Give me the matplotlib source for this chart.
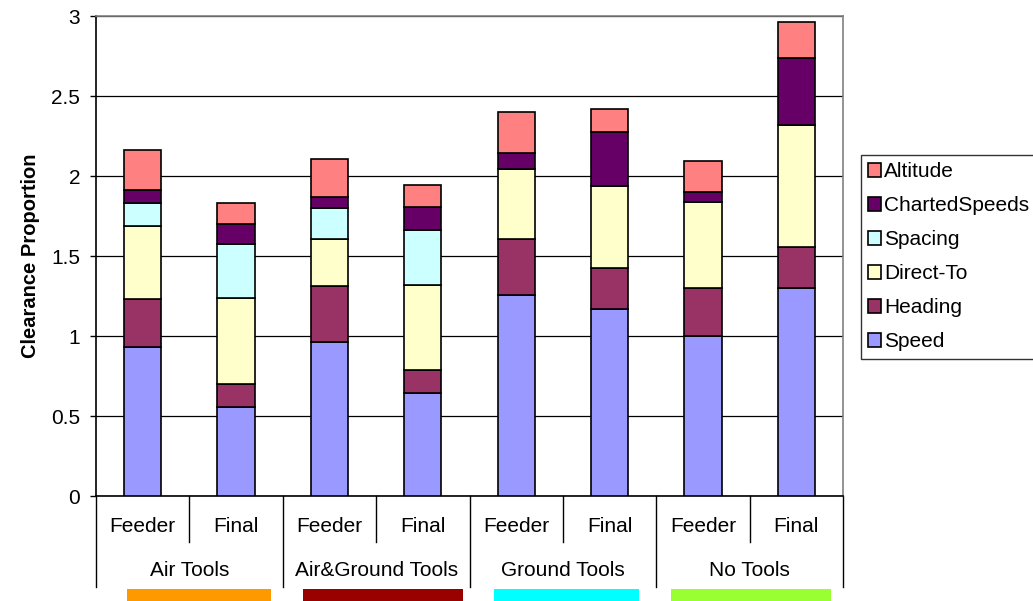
import matplotlib
matplotlib.use("Agg")
import matplotlib.pyplot as plt
from matplotlib.patches import Rectangle
import matplotlib.transforms as mtransforms
import numpy as np

plt.rcParams['font.family'] = ['Liberation Sans', 'DejaVu Sans']

# Bars, left to right
phases = ["Feeder", "Final", "Feeder", "Final", "Feeder", "Final", "Feeder", "Final"]
groups = ["Air Tools", "Air&Ground Tools", "Ground Tools", "No Tools"]
group_colors = ["#FF9900", "#990000", "#00FFFF", "#99FF33"]

# Clearance proportion per type (stack order bottom to top)
speed    = [0.933, 0.556, 0.962, 0.646, 1.258, 1.167, 1.002, 1.298]
heading  = [0.296, 0.142, 0.350, 0.142, 0.348, 0.256, 0.298, 0.256]
direct   = [0.458, 0.542, 0.294, 0.531, 0.436, 0.517, 0.538, 0.765]
spacing  = [0.142, 0.333, 0.192, 0.344, 0.000, 0.000, 0.000, 0.000]
charted  = [0.083, 0.125, 0.073, 0.146, 0.100, 0.337, 0.062, 0.416]
altitude = [0.250, 0.135, 0.233, 0.135, 0.258, 0.144, 0.194, 0.225]

series = [
    ("Speed", speed, "#9999FF"),
    ("Heading", heading, "#993366"),
    ("Direct-To", direct, "#FFFFCC"),
    ("Spacing", spacing, "#CCFFFF"),
    ("ChartedSpeeds", charted, "#660066"),
    ("Altitude", altitude, "#FF8080"),
]

W, H = 1033, 601
fig = plt.figure(figsize=(W / 100, H / 100), dpi=100)
ax = fig.add_axes([96 / W, (H - 496) / H, 747 / W, 480 / H])

x = np.arange(len(phases))
bottom = np.zeros(len(phases))
handles = []
for name, vals, color in series:
    vals = np.array(vals)
    b = ax.bar(x, vals, width=0.4, bottom=bottom, color=color,
               edgecolor="black", linewidth=1.2, label=name, zorder=3)
    handles.append(b)
    bottom += vals

ax.set_xlim(-0.5, len(phases) - 0.5)
ax.set_ylim(0, 3)
ax.set_yticks(np.arange(0, 3.01, 0.5))
ax.set_yticklabels(["0", "0.5", "1", "1.5", "2", "2.5", "3"])
ax.yaxis.grid(True, color="black", linewidth=0.9, zorder=0)
ax.set_axisbelow(True)
ax.tick_params(axis="y", direction="out", length=4.5, width=1, pad=7,
               labelsize=15, colors="black")
ax.set_xticks([])

for side in ["top", "right"]:
    ax.spines[side].set_color("#808080")
    ax.spines[side].set_linewidth(1.2)
for side in ["left", "bottom"]:
    ax.spines[side].set_color("black")
    ax.spines[side].set_linewidth(1.2)

ax.set_ylabel("Clearance Proportion", fontsize=14.5, fontweight="bold",
              labelpad=8)

# Two-level category axis below the plot
tr = mtransforms.blended_transform_factory(ax.transData, fig.transFigure)
y_axis = (H - 496) / H
y_inner = (H - 542) / H
y_outer = (H - 587) / H
for i in range(len(phases) + 1):
    xb = i - 0.5
    y_end = y_outer if i % 2 == 0 else y_inner
    ax.plot([xb, xb], [y_axis, y_end], color="black", linewidth=1,
            transform=tr, clip_on=False)
for i, lab in enumerate(phases):
    fig.text(i, (H - 526.5) / H, lab, transform=tr, ha="center",
             va="center", fontsize=15)
for g, lab in enumerate(groups):
    fig.text(2 * g + 0.5, (H - 571) / H, lab, transform=tr, ha="center",
             va="center", fontsize=15)

# Colour keys for the tool groups
key_spans = [(127, 271), (303, 463), (494, 639), (671, 831)]
for (x0, x1), c in zip(key_spans, group_colors):
    fig.patches.append(Rectangle((x0 / W, 0), (x1 - x0) / W, 12 / H,
                                 transform=fig.transFigure, facecolor=c,
                                 edgecolor="none"))

leg = fig.legend(handles[::-1], [s[0] for s in series][::-1],
                 loc="upper left", bbox_to_anchor=(861 / W, (H - 155) / H),
                 fontsize=15, frameon=True, fancybox=False,
                 edgecolor="black", handlelength=0.6, handleheight=0.6,
                 handletextpad=0.15, labelspacing=0.72, borderpad=0.35,
                 borderaxespad=0)
leg.get_frame().set_linewidth(1)

fig.savefig("out.png", dpi=100)
